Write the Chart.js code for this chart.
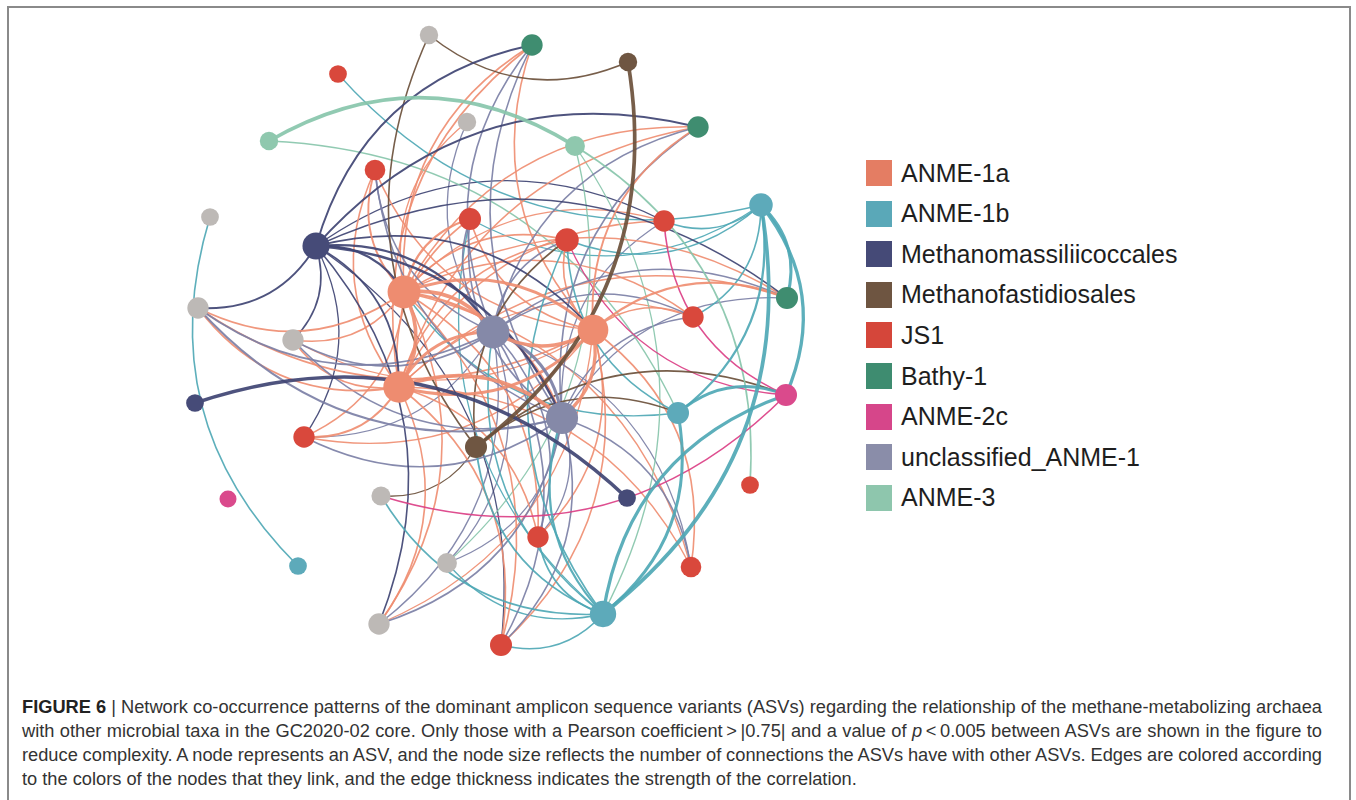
<!DOCTYPE html>
<html>
<head>
<meta charset="utf-8">
<script src="https://cdn.jsdelivr.net/npm/chart.js@4.4.1/dist/chart.umd.min.js"></script>
<style>
  html, body { margin: 0; padding: 0; background: #fff; }
  body { width: 1356px; height: 800px; position: relative; overflow: hidden; font-family: 'Liberation Sans', Arial, sans-serif; }
  #frame { position: absolute; left: 7px; top: 6px; width: 1340px; height: 820px; border: 2px solid #8a8a8a; border-bottom: none; }
  #net { position: absolute; left: 0; top: 0; }
  #legend { position: absolute; left: 866px; top: 160px; }
  .item { position: absolute; left: 0; height: 26px; display: flex; align-items: center; white-space: nowrap; }
  .sw { width: 26px; height: 26px; margin-right: 9px; flex: none; }
  .lab { font-size: 25px; color: #1e1e1e; }
  #caption { position: absolute; left: 22px; top: 695px; font-family: 'Liberation Sans', Arial, sans-serif; font-size: 17.5px; line-height: 24px; color: #333; transform-origin: 0 0; }
  .ln { white-space: nowrap; }
  .ln b { font-weight: bold; color: #222; }
</style>
</head>
<body>
<div id="frame"></div>
<canvas id="net" width="850" height="660"></canvas>
<div id="legend"></div>
<div id="caption">
  <div class="ln fill"><b>FIGURE 6</b> | Network co-occurrence patterns of the dominant amplicon sequence variants (ASVs) regarding the relationship of the methane-metabolizing archaea</div>
  <div class="ln fill">with other microbial taxa in the GC2020-02 core. Only those with a Pearson coefficient&thinsp;&gt;&thinsp;|0.75| and a value of <i>p</i>&thinsp;&lt;&thinsp;0.005 between ASVs are shown in the figure to</div>
  <div class="ln fill">reduce complexity. A node represents an ASV, and the node size reflects the number of connections the ASVs have with other ASVs. Edges are colored according</div>
  <div class="ln">to the colors of the nodes that they link, and the edge thickness indicates the strength of the correlation.</div>
</div>
<script>
// Taxonomic groups shown in the legend, in legend order
const groupNames = ['ANME-1a', 'ANME-1b', 'Methanomassiliicoccales', 'Methanofastidiosales', 'JS1', 'Bathy-1', 'ANME-2c', 'unclassified_ANME-1', 'ANME-3'];
const groupColors = ['#E47D63', '#5AA8B8', '#454A77', '#6E5541', '#D5463A', '#3E8C70', '#D6468A', '#8A8DA9', '#8EC6AD'];
const nodeColors  = ['#EE8C70', '#5DAABA', '#464B78', '#6F5642', '#D9483C', '#3F8D70', '#DA4A8C', '#8589A8', '#8FC8AE'];
const edgeColors  = ['#EF8E72', '#4FA8B5', '#3F4473', '#6B503B', '#D9483C', '#3F8D70', '#DB3F86', '#7C80A6', '#88C6AB'];
const otherColor = '#BDB9B6';   // ASVs from taxa not listed in the legend

// Node layout coordinates (ASV1 … ASV40) and taxon of each ASV
const nodeX = [429, 532, 628, 338, 698, 467, 269, 575, 375, 210,
               761, 470, 664, 567, 316, 404, 787, 693, 198, 493,
               593, 293, 399, 786, 195, 562, 678, 304, 476, 381,
               627, 750, 228, 538, 447, 691, 298, 379, 603, 501];
const nodeY = [ 35,  45,  62,  74, 127, 122, 141, 146, 170, 217,
               205, 219, 221, 240, 246, 292, 298, 317, 308, 332,
               330, 340, 387, 395, 403, 418, 413, 437, 447, 496,
               498, 485, 499, 537, 563, 567, 566, 624, 614, 645];
const nodeGroup = ['other', 'Bathy-1', 'Methanofastidiosales', 'JS1', 'Bathy-1', 'other', 'ANME-3', 'ANME-3', 'JS1', 'other',
                   'ANME-1b', 'JS1', 'JS1', 'JS1', 'Methanomassiliicoccales', 'ANME-1a', 'Bathy-1', 'JS1', 'other', 'unclassified_ANME-1',
                   'ANME-1a', 'other', 'ANME-1a', 'ANME-2c', 'Methanomassiliicoccales', 'unclassified_ANME-1', 'ANME-1b', 'JS1', 'Methanofastidiosales', 'other',
                   'Methanomassiliicoccales', 'JS1', 'ANME-2c', 'JS1', 'other', 'JS1', 'ANME-1b', 'other', 'ANME-1b', 'JS1'];

// Correlations: [source ASV, target ASV, Pearson r]; edges take the source's colour
const edgesANME1a = [
  [16,20,.95],[16,21,.90],[16,23,.95],[16,26,.85],[16,2,.80],[16,5,.80],[16,9,.82],[16,12,.85],[16,14,.80],[16,13,.78],
  [16,17,.80],[16,18,.80],[16,19,.82],[16,22,.80],[16,28,.80],[16,38,.80],[16,40,.80],[16,34,.80],[16,36,.78],[16,6,.78],
  [21,20,.92],[21,23,.90],[21,26,.92],[21,2,.80],[21,5,.82],[21,12,.80],[21,14,.80],[21,17,.85],[21,18,.80],[21,19,.80],
  [21,28,.78],[21,38,.78],[21,40,.80],[21,34,.80],[21,36,.80],[21,9,.80],[21,22,.78],
  [23,20,.90],[23,26,.95],[23,2,.80],[23,5,.80],[23,9,.80],[23,12,.80],[23,13,.78],[23,17,.80],[23,18,.78],[23,19,.82],
  [23,22,.80],[23,28,.82],[23,38,.80],[23,40,.80],[23,34,.80],[23,36,.78],[23,14,.80]
];
const edgesUnclassified = [
  [20,26,.90],[20,2,.80],[20,5,.80],[20,9,.80],[20,12,.80],[20,14,.80],[20,17,.80],[20,18,.80],[20,19,.82],[20,22,.80],
  [20,28,.78],[20,38,.78],[20,40,.80],[20,34,.80],[20,36,.78],[20,35,.78],[20,6,.78],
  [26,2,.80],[26,5,.80],[26,9,.80],[26,12,.80],[26,17,.78],[26,18,.78],[26,19,.82],[26,22,.80],[26,28,.80],[26,38,.80],
  [26,40,.80],[26,34,.78],[26,36,.80],[26,35,.78],[26,13,.78]
];
const edgesMethanomassilii = [
  [15,2,.82],[15,5,.82],[15,17,.80],[15,19,.82],[15,16,.85],[15,20,.85],[15,21,.80],[15,23,.82],[15,26,.85],[15,38,.80],
  [15,22,.80],[15,28,.78],[15,13,.78],[15,40,.78],[25,31,.95]
];
const edgesANME1b = [
  [11,39,.95],[11,24,.92],[11,17,.90],[11,27,.85],[11,13,.80],[11,14,.80],[11,18,.80],[11,12,.78],[11,4,.78],
  [27,39,.90],[27,24,.90],[27,14,.80],[27,16,.78],
  [39,30,.80],[39,34,.80],[39,40,.80],[39,20,.80],[39,26,.85],[39,14,.80],[39,35,.78],[39,24,.92],[39,29,.82],[39,12,.78],
  [37,10,.80]
];
const edgesMethanofast = [[3,29,.95],[3,1,.80],[29,1,.80],[29,14,.80],[29,24,.80],[29,27,.80],[29,30,.78]];
const edgesANME3 = [[7,8,.95],[7,27,.78],[8,32,.80],[8,35,.78],[8,39,.78]];
const edgesANME2c = [[24,13,.80],[24,14,.78],[24,30,.80]];

const edges = [].concat(edgesANME1a, edgesUnclassified, edgesMethanomassilii, edgesANME1b,
                        edgesMethanofast, edgesANME3, edgesANME2c);

// Number of connections per ASV sets the node size
const degree = nodeX.map(() => 0);
edges.forEach(([s, t]) => { degree[s - 1]++; degree[t - 1]++; });
const radiusFor = d => 8.5 + 0.36 * d;
const widthFor = r => 0.9 + (r - 0.75) * 14;
const BEND = 0.3;

const gIndex = g => groupNames.indexOf(g);

// Bubble datasets, one per taxon, drawn over the edges
const datasets = [];
groupNames.concat(['other']).forEach(g => {
  const pts = [];
  nodeGroup.forEach((ng, i) => {
    if (ng === g) pts.push({ x: nodeX[i], y: nodeY[i], r: radiusFor(degree[i]) });
  });
  const ci = gIndex(g);
  datasets.push({
    label: g,
    data: pts,
    backgroundColor: ci >= 0 ? nodeColors[ci] : otherColor,
    borderWidth: 0,
    hoverRadius: 0
  });
});

// Curved edges, bending to the left of the source → target direction
const edgePlugin = {
  id: 'curvedEdges',
  beforeDatasetsDraw(chart) {
    const { ctx, scales: { x, y } } = chart;
    ctx.save();
    ctx.lineCap = 'round';
    const sorted = edges.slice().sort((a, b) => a[2] - b[2]);
    sorted.forEach(([s, t, r]) => {
      const x1 = x.getPixelForValue(nodeX[s - 1]), y1 = y.getPixelForValue(nodeY[s - 1]);
      const x2 = x.getPixelForValue(nodeX[t - 1]), y2 = y.getPixelForValue(nodeY[t - 1]);
      const dx = x2 - x1, dy = y2 - y1;
      const cx = (x1 + x2) / 2 + BEND * dy;
      const cy = (y1 + y2) / 2 - BEND * dx;
      ctx.beginPath();
      ctx.moveTo(x1, y1);
      ctx.quadraticCurveTo(cx, cy, x2, y2);
      ctx.strokeStyle = edgeColors[gIndex(nodeGroup[s - 1])];
      ctx.globalAlpha = 0.92;
      ctx.lineWidth = widthFor(r);
      ctx.stroke();
    });
    ctx.restore();
  }
};

new Chart(document.getElementById('net'), {
  type: 'bubble',
  data: { datasets },
  options: {
    responsive: false,
    animation: false,
    events: [],
    layout: { padding: 0, autoPadding: false },
    clip: false,
    plugins: { legend: { display: false }, tooltip: { enabled: false } },
    scales: {
      x: { type: 'linear', min: 0, max: 850, display: false },
      y: { type: 'linear', min: 0, max: 660, reverse: true, display: false }
    }
  },
  plugins: [edgePlugin]
});

// Legend
const legend = document.getElementById('legend');
const legendStep = 40.6;
groupNames.forEach((g, i) => {
  const it = document.createElement('div');
  it.className = 'item';
  it.style.top = (i * legendStep) + 'px';
  it.innerHTML = '<div class="sw" style="background:' + groupColors[i] + '"></div><span class="lab">' + g + '</span>';
  legend.appendChild(it);
});

// Caption set in a condensed face: squeeze horizontally so the first line spans the text width,
// then spread the remaining full lines to the same width
const captionWidth = 1300;
const caption = document.getElementById('caption');
const lines = caption.querySelectorAll('.ln');
lines.forEach(el => { el.style.display = 'inline-block'; });
const squeeze = captionWidth / lines[0].getBoundingClientRect().width;
caption.style.transform = 'scaleX(' + squeeze + ')';
const inner = captionWidth / squeeze;
caption.querySelectorAll('.fill').forEach(el => {
  const natural = el.getBoundingClientRect().width / squeeze;
  const spaces = (el.textContent.match(/ /g) || []).length;
  if (spaces) el.style.wordSpacing = ((inner - natural) / spaces) + 'px';
});
lines.forEach(el => { el.style.display = 'block'; });
</script>
</body>
</html>
